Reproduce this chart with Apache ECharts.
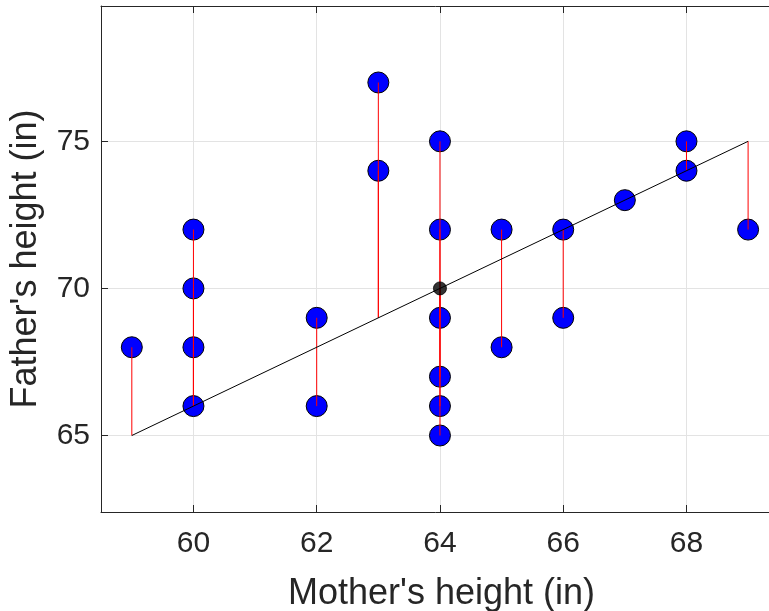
<!DOCTYPE html>
<html>
<head>
<meta charset="utf-8">
<script src="https://cdn.jsdelivr.net/npm/echarts@6/dist/echarts.min.js"></script>
<style>
html,body{margin:0;padding:0;background:#fff;}
#chart{width:769px;height:611px;}
</style>
</head>
<body>
<div id="chart"></div>
<script>
// Data
const motherHeights = [59, 60, 60, 60, 60, 62, 62, 63, 63, 64, 64, 64, 64, 64, 64, 65, 65, 66, 66, 67, 68, 68, 69];
const fatherHeights = [68, 72, 70, 68, 66, 69, 66, 77, 74, 75, 72, 69, 67, 66, 65, 72, 68, 72, 69, 73, 75, 74, 72];
const fitLineX = [59, 69];
const fitLineY = [65, 75];
const meanPoint = [64, 70];
const xTickValues = [60, 62, 64, 66, 68];
const yTickValues = [65, 70, 75];
const xAxisTitle = "Mother's height (in)";
const yAxisTitle = "Father's height (in)";

function fitAt(x) {
  return fitLineY[0] + (x - fitLineX[0]) * (fitLineY[1] - fitLineY[0]) / (fitLineX[1] - fitLineX[0]);
}

const points = motherHeights.map((m, i) => [m, fatherHeights[i]]);
const residualData = motherHeights.map((m, i) => [m, fatherHeights[i], fitAt(m)]);
const fitData = fitLineX.map((x, i) => [x, fitLineY[i]]);

const FONT = "'Liberation Sans', Arial, Helvetica, sans-serif";
const TXT = '#262626';
const AX = '#262626';
const GRID = '#e3e3e3';

const chart = echarts.init(document.getElementById('chart'), null, { renderer: 'canvas' });
chart.setOption({
  animation: false,
  backgroundColor: '#fff',
  grid: { left: 101, top: 6, right: -13, bottom: 99, containLabel: false, outerBoundsMode: 'none' },
  xAxis: [{
    type: 'value', position: 'bottom', min: 58.5, max: 69.55,
    name: xAxisTitle, nameLocation: 'middle', nameGap: 64,
    nameTextStyle: { fontFamily: FONT, fontSize: 36, color: TXT },
    axisLine: { show: true, lineStyle: { color: AX, width: 1 } },
    axisTick: { show: true, inside: true, length: 7, customValues: xTickValues, lineStyle: { color: AX } },
    axisLabel: { fontFamily: FONT, fontSize: 30, color: TXT, margin: 17, customValues: xTickValues },
    splitLine: { show: true, lineStyle: { color: GRID, width: 1 } }
  }, {
    type: 'value', position: 'top', min: 58.5, max: 69.55,
    axisLine: { show: true, lineStyle: { color: AX, width: 1 } },
    axisTick: { show: true, inside: true, length: 7, customValues: xTickValues, lineStyle: { color: AX } },
    axisLabel: { show: false },
    splitLine: { show: false }
  }],
  yAxis: [{
    type: 'value', position: 'left', min: 62.4, max: 79.6,
    name: yAxisTitle, nameLocation: 'middle', nameGap: 57, nameRotate: 90,
    nameTextStyle: { fontFamily: FONT, fontSize: 36, color: TXT },
    axisLine: { show: true, lineStyle: { color: AX, width: 1 } },
    axisTick: { show: true, inside: true, length: 7, customValues: yTickValues, lineStyle: { color: AX } },
    axisLabel: { fontFamily: FONT, fontSize: 30, color: TXT, margin: 11, customValues: yTickValues },
    splitLine: { show: true, lineStyle: { color: GRID, width: 1 } }
  }],
  series: [
    {
      type: 'scatter', xAxisIndex: 0, yAxisIndex: 0, data: points,
      symbol: 'circle', symbolSize: 21, z: 2,
      itemStyle: { color: '#0000ff', borderColor: '#000000', borderWidth: 1, opacity: 1 }
    },
    {
      type: 'custom', xAxisIndex: 0, yAxisIndex: 0, data: residualData, z: 3, silent: true,
      encode: { x: 0, y: [1, 2] },
      renderItem: function (params, api) {
        const p1 = api.coord([api.value(0), api.value(1)]);
        const p2 = api.coord([api.value(0), api.value(2)]);
        return {
          type: 'line',
          shape: { x1: p1[0], y1: p1[1], x2: p2[0], y2: p2[1] },
          style: { stroke: '#ff0000', lineWidth: 1 }
        };
      }
    },
    {
      type: 'line', xAxisIndex: 0, yAxisIndex: 0, data: fitData, z: 4,
      showSymbol: false, symbol: 'none',
      lineStyle: { color: '#000000', width: 1 }
    },
    {
      type: 'scatter', xAxisIndex: 0, yAxisIndex: 0, data: [meanPoint],
      symbol: 'circle', symbolSize: 13, z: 5,
      itemStyle: { color: '#000000', borderColor: '#000000', borderWidth: 1 }
    }
  ]
});
</script>
</body>
</html>
